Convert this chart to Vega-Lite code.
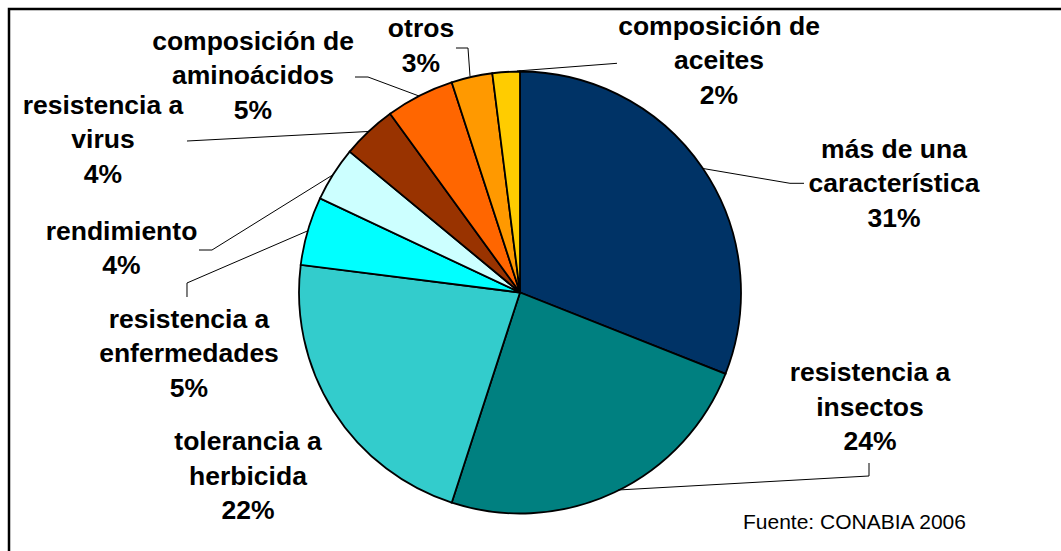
{
  "$schema": "https://vega.github.io/schema/vega-lite/v6.json",
  "width": 1040,
  "height": 517,
  "autosize": {"type": "none"},
  "padding": {"left": 0, "top": 34, "right": 21, "bottom": 0},
  "background": "white",
  "config": {"view": {"stroke": null}},
  "datasets": {
    "slices": [
      {"name": "más de una característica", "value": 31, "order": 1},
      {"name": "resistencia a insectos", "value": 24, "order": 2},
      {"name": "tolerancia a herbicida", "value": 22, "order": 3},
      {"name": "resistencia a enfermedades", "value": 5, "order": 4},
      {"name": "rendimiento", "value": 4, "order": 5},
      {"name": "resistencia a virus", "value": 4, "order": 6},
      {"name": "composición de aminoácidos", "value": 5, "order": 7},
      {"name": "otros", "value": 3, "order": 8},
      {"name": "composición de aceites", "value": 2, "order": 9}
    ],
    "labels": [
      {"name": "más de una característica", "label": "más de una\ncaracterística", "lx": 1.6923, "ly": 0.6448},
      {"name": "resistencia a insectos", "label": "resistencia a\ninsectos", "lx": 1.5837, "ly": -0.3643},
      {"name": "tolerancia a herbicida", "label": "tolerancia a\nherbicida", "lx": -1.2308, "ly": -0.6765},
      {"name": "resistencia a enfermedades", "label": "resistencia a\nenfermedades", "lx": -1.4977, "ly": -0.1244},
      {"name": "rendimiento", "label": "rendimiento", "lx": -1.8032, "ly": 0.2738},
      {"name": "resistencia a virus", "label": "resistencia a\nvirus", "lx": -1.8869, "ly": 0.8439},
      {"name": "composición de aminoácidos", "label": "composición de\naminoácidos", "lx": -1.2081, "ly": 1.1335},
      {"name": "otros", "label": "otros", "lx": -0.4480, "ly": 1.1923},
      {"name": "composición de aceites", "label": "composición de\naceites", "lx": 0.9005, "ly": 1.2014}
    ],
    "leaders": [
      {"name": "composición de aceites", "seq": 1, "lx": -0.0136, "ly": 1.0023},
      {"name": "composición de aceites", "seq": 2, "lx": 0.4389, "ly": 1.0371},
      {"name": "otros", "seq": 1, "lx": -0.2262, "ly": 0.9796},
      {"name": "otros", "seq": 2, "lx": -0.2353, "ly": 1.1063},
      {"name": "otros", "seq": 3, "lx": -0.2896, "ly": 1.1063},
      {"name": "composición de aminoácidos", "seq": 1, "lx": -0.4570, "ly": 0.8891},
      {"name": "composición de aminoácidos", "seq": 2, "lx": -0.6878, "ly": 0.9751},
      {"name": "composición de aminoácidos", "seq": 3, "lx": -0.7466, "ly": 0.9751},
      {"name": "resistencia a virus", "seq": 1, "lx": -0.6878, "ly": 0.7285},
      {"name": "resistencia a virus", "seq": 2, "lx": -1.5068, "ly": 0.6855},
      {"name": "rendimiento", "seq": 1, "lx": -0.8443, "ly": 0.5339},
      {"name": "rendimiento", "seq": 2, "lx": -1.3937, "ly": 0.1923},
      {"name": "rendimiento", "seq": 3, "lx": -1.4525, "ly": 0.1923},
      {"name": "resistencia a enfermedades", "seq": 1, "lx": -0.9602, "ly": 0.2792},
      {"name": "resistencia a enfermedades", "seq": 2, "lx": -1.5068, "ly": 0.0430},
      {"name": "resistencia a enfermedades", "seq": 3, "lx": -1.5068, "ly": -0.0204},
      {"name": "más de una característica", "seq": 1, "lx": 0.8281, "ly": 0.5611},
      {"name": "más de una característica", "seq": 2, "lx": 1.2217, "ly": 0.4941},
      {"name": "más de una característica", "seq": 3, "lx": 1.2851, "ly": 0.4941},
      {"name": "resistencia a insectos", "seq": 1, "lx": 0.4434, "ly": -0.8937},
      {"name": "resistencia a insectos", "seq": 2, "lx": 1.5792, "ly": -0.8303},
      {"name": "resistencia a insectos", "seq": 3, "lx": 1.5792, "ly": -0.7715}
    ],
    "notes": [
      {"note": "Fuente: CONABIA 2006", "lx": 1.0090, "ly": -1.0430}
    ]
  },
  "layer": [
    {
      "data": {"values": [{"x0": -2.3122, "x1": 2.49, "y0": 1.2828, "y1": -1.25}]},
      "mark": {"type": "rect", "filled": false, "stroke": "black", "strokeWidth": 2.5},
      "encoding": {
        "x": {"field": "x0", "type": "quantitative", "scale": {"domain": [-2.35294, 2.35294], "nice": false, "zero": false}, "axis": null},
        "x2": {"field": "x1"},
        "y": {"field": "y0", "type": "quantitative", "scale": {"domain": [-1.16968, 1.16968], "nice": false, "zero": false}, "axis": null},
        "y2": {"field": "y1"}
      }
    },
    {
      "data": {"name": "slices"},
      "mark": {"type": "arc", "outerRadius": 221, "stroke": "black", "strokeWidth": 1.8},
      "encoding": {
        "theta": {"field": "value", "type": "quantitative", "stack": true},
        "order": {"field": "order", "type": "quantitative"},
        "color": {
          "field": "name",
          "type": "nominal",
          "legend": null,
          "scale": {
            "domain": ["más de una característica", "resistencia a insectos", "tolerancia a herbicida", "resistencia a enfermedades", "rendimiento", "resistencia a virus", "composición de aminoácidos", "otros", "composición de aceites"],
            "range": ["#003366", "#008080", "#33CCCC", "#00FFFF", "#CCFFFF", "#993300", "#FF6600", "#FF9900", "#FFCC00"]
          }
        }
      }
    },
    {
      "data": {"name": "leaders"},
      "mark": {"type": "line", "color": "black", "strokeWidth": 1},
      "encoding": {
        "x": {"field": "lx", "type": "quantitative", "axis": null},
        "y": {"field": "ly", "type": "quantitative", "axis": null},
        "detail": {"field": "name", "type": "nominal"},
        "order": {"field": "seq", "type": "quantitative"}
      }
    },
    {
      "data": {"name": "labels"},
      "transform": [
        {"lookup": "name", "from": {"data": {"name": "slices"}, "key": "name", "fields": ["value"]}},
        {"calculate": "datum.label + '\\n' + datum.value + '%'", "as": "text"}
      ],
      "mark": {"type": "text", "font": "Liberation Sans", "fontWeight": "bold", "fontSize": 26.5, "lineHeight": 34.5, "lineBreak": "\n", "align": "center", "baseline": "middle", "color": "black"},
      "encoding": {
        "x": {"field": "lx", "type": "quantitative", "axis": null},
        "y": {"field": "ly", "type": "quantitative", "axis": null},
        "text": {"field": "text", "type": "nominal"}
      }
    },
    {
      "data": {"name": "notes"},
      "mark": {"type": "text", "font": "Liberation Sans", "fontSize": 21, "align": "left", "baseline": "middle", "color": "black"},
      "encoding": {
        "x": {"field": "lx", "type": "quantitative", "axis": null},
        "y": {"field": "ly", "type": "quantitative", "axis": null},
        "text": {"field": "note", "type": "nominal"}
      }
    }
  ]
}
